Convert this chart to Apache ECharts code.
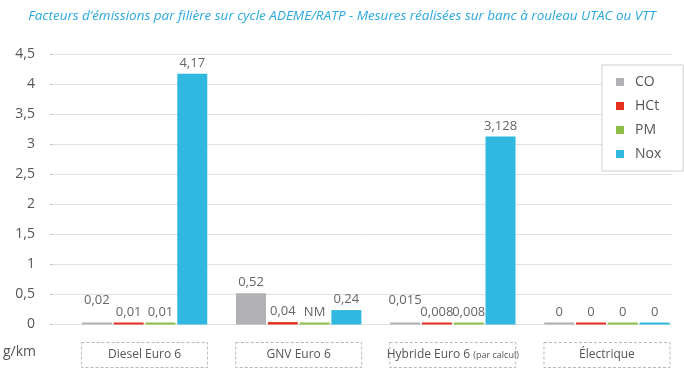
<!DOCTYPE html>
<html>
<head>
<meta charset="utf-8">
<script src="https://cdn.jsdelivr.net/npm/echarts@6/dist/echarts.min.js"></script>
<style>html,body{margin:0;padding:0;background:#fff;}#c{width:684px;height:384px;}</style>
</head>
<body>
<div id="c"></div>
<script>
var titleText = "Facteurs d\u2019émissions par filière sur cycle ADEME/RATP - Mesures réalisées sur banc à rouleau UTAC ou VTT";
var unitText = "g/km";
var categories = ["Diesel Euro 6", "GNV Euro 6", "Hybride Euro 6 (par calcul)", "Électrique"];
var seriesNames = ["CO", "HCt", "PM", "Nox"];
var coValues = [0.02, 0.52, 0.015, 0];
var hctValues = [0.01, 0.04, 0.008, 0];
var pmValues = [0.01, null, 0.008, 0];   // null = NM (non mesuré)
var noxValues = [4.17, 0.24, 3.128, 0];
var yTicks = [0, 0.5, 1, 1.5, 2, 2.5, 3, 3.5, 4, 4.5];

var colors = ["#b1b1b6", "#e5301f", "#8dbf47", "#31b8e0"];
var allValues = [coValues, hctValues, pmValues, noxValues];
var font = "'Open Sans', 'Noto Sans', sans-serif";

function fmt(v) { return v === null ? 'NM' : String(v).replace('.', ','); }

var series = allValues.map(function (vals, si) {
  return {
    name: seriesNames[si],
    type: 'bar',
    xAxisIndex: 1,
    yAxisIndex: 1,
    barWidth: 30,
    barGap: '6%',
    barMinHeight: 2,
    itemStyle: { color: colors[si] },
    label: {
      show: true, position: 'top', distance: 4,
      color: '#666', fontSize: 13, fontFamily: font,
      formatter: function (p) { return fmt(vals[p.dataIndex]); }
    },
    data: vals.map(function (v) {
      var item = { value: v === null ? 0 : v };
      if (si === 0 && v > 0 && v < 0.1) item.label = { distance: 16 };
      return item;
    })
  };
});

var chart = echarts.init(document.getElementById('c'), null, { renderer: 'canvas' });
chart.setOption({
  animation: false,
  backgroundColor: '#fff',
  color: colors,
  title: {
    text: titleText, left: 'center', top: 4,
    textStyle: { color: '#2aa9e0', fontSize: 13.5, fontStyle: 'italic', fontWeight: 'normal', fontFamily: font }
  },
  graphic: [{
    type: 'text', left: 3, top: 345,
    style: { text: unitText, fill: '#555', fontSize: 14, fontFamily: font }
  }],
  legend: {
    orient: 'vertical', left: 602, top: 65,
    data: seriesNames,
    icon: 'rect', itemWidth: 8, itemHeight: 8, itemGap: 10,
    backgroundColor: '#fff', borderColor: '#d0d0d0', borderWidth: 1,
    padding: [10, 22, 10, 14],
    textStyle: { color: '#555', fontSize: 14, fontFamily: font, padding: [0, 0, 0, 6] },
    z: 10
  },
  grid: [
    { left: 53, right: 12, top: 54, bottom: 59.5 },
    { left: 67.5, right: -1.3, top: 54, bottom: 59.5 }
  ],
  xAxis: [
    { gridIndex: 0, type: 'category', data: [''], show: false },
    {
      gridIndex: 1, type: 'category', data: categories,
      axisLine: { show: false }, axisTick: { show: false },
      axisLabel: {
        interval: 0, margin: 18,
        color: '#555', fontSize: 12, fontFamily: font,
        width: 126, height: 25, lineHeight: 25, align: 'center',
        borderColor: '#b8b8b8', borderWidth: 1, borderType: [3, 2],
        formatter: function (v) {
          var i = v.indexOf('(');
          if (i > 0) return '{a|' + v.slice(0, i) + '}{b|' + v.slice(i) + '}';
          return '{a|' + v + '}';
        },
        rich: {
          a: { color: '#555', fontSize: 12, fontFamily: font, lineHeight: 25 },
          b: { color: '#555', fontSize: 9, fontFamily: font, lineHeight: 25 }
        }
      }
    }
  ],
  yAxis: [
    {
      gridIndex: 0, type: 'value', min: yTicks[0], max: yTicks[yTicks.length - 1],
      interval: yTicks[1] - yTicks[0],
      axisLine: { show: false },
      axisTick: { show: true, length: 3, lineStyle: { color: '#c4c4c4' } },
      axisLabel: { margin: 18, color: '#555', fontSize: 14, fontFamily: font, formatter: function (v) { return fmt(v); } },
      splitLine: { lineStyle: { color: '#e0e0e0', width: 1 } }
    },
    {
      gridIndex: 1, type: 'value', min: yTicks[0], max: yTicks[yTicks.length - 1],
      show: false, splitLine: { show: false }
    }
  ],
  series: series
});
</script>
</body>
</html>
